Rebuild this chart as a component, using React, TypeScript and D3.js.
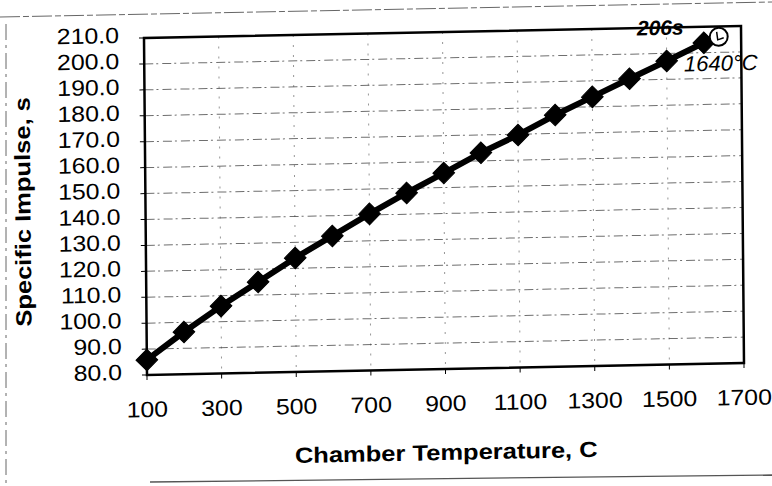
import React from "react";
import * as d3 from "d3";

// ---- data ----
const temperatures = [100, 200, 300, 400, 500, 600, 700, 800, 900, 1000, 1100, 1200, 1300, 1400, 1500, 1600];
const impulse = [85.8, 96.3, 106.0, 115.0, 124.0, 132.2, 140.4, 148.2, 155.6, 163.1, 169.7, 177.1, 183.8, 190.5, 197.1, 203.8];
const peakTemperature = 1640;
const peakImpulse = 206;
const peakImpulseLabel = "206s";
const peakTemperatureLabel = "1640°C";
const xTickValues = [100, 300, 500, 700, 900, 1100, 1300, 1500, 1700];
const yTickValues = [80, 90, 100, 110, 120, 130, 140, 150, 160, 170, 180, 190, 200, 210];
const xTitle = "Chamber Temperature, C";
const yTitle = "Specific Impulse, s";

const W = 772;
const H = 486;
const M = { left: 147, right: 744, top: 38, bottom: 375 };
const FONT = "'Liberation Sans', Arial, Helvetica, sans-serif";
// the scanned original is slightly skewed
const SKEW = "matrix(1,-0.0201,0.0089,1,-3.34,2.95)";

export default function App() {
  const x = d3.scaleLinear().domain([100, 1700]).range([M.left, M.right]);
  const y = d3.scaleLinear().domain([80, 210]).range([M.bottom, M.top]);

  const pts: [number, number][] = temperatures.map((t, i) => [t, impulse[i]]);
  const linePts: [number, number][] = [...pts, [peakTemperature, peakImpulse]];
  const line = d3
    .line<[number, number]>()
    .x((d) => x(d[0]))
    .y((d) => y(d[1]));
  const diamond = d3.symbol(d3.symbolSquare, 235)() as string;

  const cx = x(peakTemperature);
  const cy = y(peakImpulse);
  const ts = { fontFamily: FONT };

  return (
    <svg
      width={W}
      height={H}
      style={{ position: "absolute", left: 0, top: 0, background: "#fff", fontFamily: FONT }}
    >
      <rect x={0} y={0} width={W} height={H} fill="#fff" />
      {/* outer chart-area frame (scan remnants) */}
      <line x1={0} y1={17} x2={W} y2={2} stroke="#666" strokeWidth={1} strokeDasharray="20,3,6,3" />
      <line x1={6} y1={24} x2={6} y2={H} stroke="#666" strokeWidth={1} strokeDasharray="16,5,3,5" />
      <line x1={150} y1={482} x2={W} y2={475} stroke="#555" strokeWidth={1.3} />

      <g transform={SKEW}>
        {/* gridlines */}
        {yTickValues.slice(1, -1).map((v) => (
          <line
            key={"gy" + v}
            x1={M.left}
            x2={M.right}
            y1={y(v)}
            y2={y(v)}
            stroke="#333"
            strokeWidth={1}
            strokeDasharray="9,3,2,4"
            opacity={0.7}
          />
        ))}
        {xTickValues.slice(1, -1).map((v) => (
          <line
            key={"gx" + v}
            x1={x(v)}
            x2={x(v)}
            y1={M.top}
            y2={M.bottom}
            stroke="#444"
            strokeWidth={1}
            strokeDasharray="2,8"
            opacity={0.55}
          />
        ))}

        {/* plot border */}
        <rect
          x={M.left}
          y={M.top}
          width={M.right - M.left}
          height={M.bottom - M.top}
          fill="none"
          stroke="#000"
          strokeWidth={2.5}
        />

        {/* ticks */}
        {yTickValues.map((v) => (
          <line key={"ty" + v} x1={M.left - 5} x2={M.left} y1={y(v)} y2={y(v)} stroke="#000" strokeWidth={1} />
        ))}
        {xTickValues.map((v) => (
          <line key={"tx" + v} x1={x(v)} x2={x(v)} y1={M.bottom} y2={M.bottom + 5} stroke="#000" strokeWidth={1} />
        ))}

        {/* y tick labels */}
        {yTickValues.map((v) => (
          <text
            key={"ly" + v}
            transform={`translate(${M.left - 25},${y(v) + 4.5}) scale(1.13,1)`}
            textAnchor="end"
            fontSize={22}
            fill="#000"
            style={ts}
          >
            {v.toFixed(1)}
          </text>
        ))}
        {/* x tick labels */}
        {xTickValues.map((v) => (
          <text
            key={"lx" + v}
            transform={`translate(${x(v)},${M.bottom + 42}) scale(1.13,1)`}
            textAnchor="middle"
            fontSize={22}
            fill="#000"
            style={ts}
          >
            {v}
          </text>
        ))}

        {/* axis titles */}
        <text
          transform={`translate(${(M.left + M.right) / 2},${M.bottom + 91}) scale(1.16,1)`}
          textAnchor="middle"
          fontSize={22}
          fontWeight="bold"
          fill="#000"
          style={ts}
        >
          {xTitle}
        </text>
        <text
          transform={`translate(32,${(M.top + M.bottom) / 2 + 3}) rotate(-90) scale(1.16,1)`}
          textAnchor="middle"
          fontSize={22}
          fontWeight="bold"
          fill="#000"
          style={ts}
        >
          {yTitle}
        </text>

        {/* series */}
        <path d={line(linePts) as string} fill="none" stroke="#000" strokeWidth={6} strokeLinejoin="round" />
        {pts.map(([t, v]) => (
          <path
            key={"m" + t}
            d={diamond}
            transform={`translate(${x(t)},${y(v)}) rotate(45)`}
            fill="#000"
            stroke="#000"
            strokeWidth={1}
          />
        ))}
        {/* highlighted end point */}
        <circle cx={cx} cy={cy} r={9} fill="#fff" stroke="#000" strokeWidth={2} />
        <path
          d={`M${cx - 2},${cy - 5} L${cx - 1},${cy + 3} L${cx + 5},${cy + 1}`}
          fill="none"
          stroke="#000"
          strokeWidth={1.5}
        />

        {/* annotations */}
        <text
          x={cx - 35}
          y={cy - 3}
          textAnchor="end"
          fontSize={21}
          fontWeight="bold"
          fontStyle="italic"
          fill="#000"
          style={ts}
        >
          {peakImpulseLabel}
        </text>
        <text x={cx - 35} y={cy + 34} fontSize={22} fontStyle="italic" fill="#000" style={ts}>
          {peakTemperatureLabel}
        </text>
      </g>
    </svg>
  );
}
